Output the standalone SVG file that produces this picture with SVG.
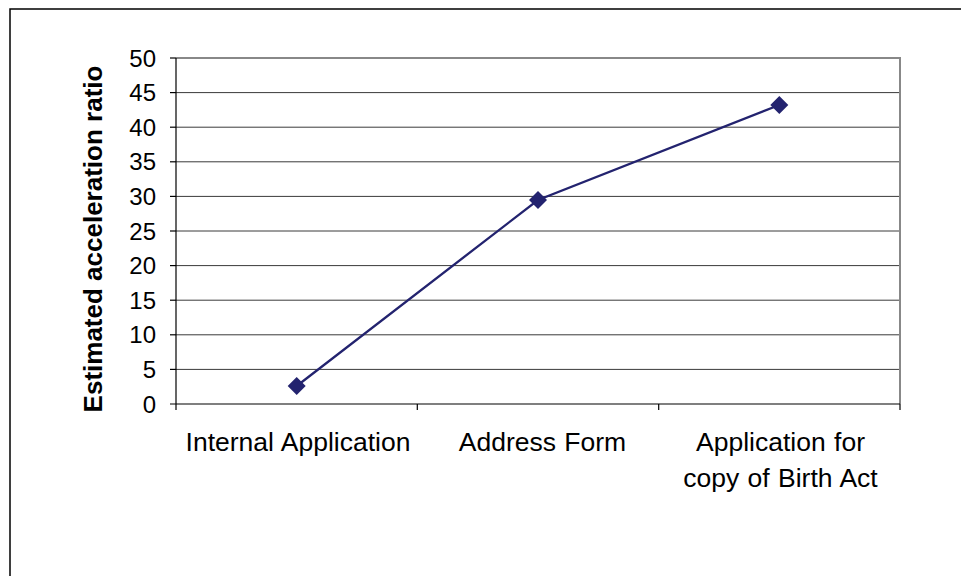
<svg xmlns="http://www.w3.org/2000/svg" width="961" height="576" viewBox="0 0 961 576">
  <style>
    .lbl { font-family: "Liberation Sans", Arial, sans-serif; font-size: 26px; fill: #000; }
    .cat { font-size: 26.5px; word-spacing: 1px; }
    .tick { font-size: 24px; }
    .grid { stroke: #3a3a3a; stroke-width: 1; }
    .axis { stroke: #000; stroke-width: 1.2; }
    .series { fill: none; stroke: #23236f; stroke-width: 2.3; }
    .pt { fill: #23236f; }
  </style>
  <rect width="961" height="576" fill="#fff"/>
  <!-- chart frame -->
  <rect x="10" y="9" width="970" height="600" fill="none" stroke="#000" stroke-width="1.5"/>

  <!-- plot area -->
  <g id="plot">
    <rect x="176" y="58" width="724" height="346" fill="#fff"/>
    <g class="grid">
      <line x1="176" y1="92.6" x2="900" y2="92.6"/>
      <line x1="176" y1="127.2" x2="900" y2="127.2"/>
      <line x1="176" y1="161.8" x2="900" y2="161.8"/>
      <line x1="176" y1="196.4" x2="900" y2="196.4"/>
      <line x1="176" y1="231" x2="900" y2="231"/>
      <line x1="176" y1="265.6" x2="900" y2="265.6"/>
      <line x1="176" y1="300.2" x2="900" y2="300.2"/>
      <line x1="176" y1="334.8" x2="900" y2="334.8"/>
      <line x1="176" y1="369.4" x2="900" y2="369.4"/>
    </g>
    <path d="M176 58 H900 V404" fill="none" stroke="#888" stroke-width="2"/>
  </g>

  <!-- axes -->
  <g id="axes" class="axis">
    <line x1="176" y1="58" x2="176" y2="410"/>
    <line x1="170" y1="404" x2="900" y2="404"/>
    <line x1="170" y1="58" x2="176" y2="58"/>
    <line x1="170" y1="92.6" x2="176" y2="92.6"/>
    <line x1="170" y1="127.2" x2="176" y2="127.2"/>
    <line x1="170" y1="161.8" x2="176" y2="161.8"/>
    <line x1="170" y1="196.4" x2="176" y2="196.4"/>
    <line x1="170" y1="231" x2="176" y2="231"/>
    <line x1="170" y1="265.6" x2="176" y2="265.6"/>
    <line x1="170" y1="300.2" x2="176" y2="300.2"/>
    <line x1="170" y1="334.8" x2="176" y2="334.8"/>
    <line x1="170" y1="369.4" x2="176" y2="369.4"/>
    <line x1="417.3" y1="404" x2="417.3" y2="410"/>
    <line x1="658.7" y1="404" x2="658.7" y2="410"/>
    <line x1="900" y1="404" x2="900" y2="410"/>
  </g>

  <!-- y tick labels -->
  <g id="y-labels" class="lbl tick" text-anchor="end">
    <text x="156" y="66.5">50</text>
    <text x="156" y="101.1">45</text>
    <text x="156" y="135.7">40</text>
    <text x="156" y="170.3">35</text>
    <text x="156" y="204.9">30</text>
    <text x="156" y="239.5">25</text>
    <text x="156" y="274.1">20</text>
    <text x="156" y="308.7">15</text>
    <text x="156" y="343.3">10</text>
    <text x="156" y="377.9">5</text>
    <text x="156" y="412.5">0</text>
  </g>

  <!-- y axis title -->
  <text id="y-title" class="lbl" font-size="27.3" font-weight="bold" text-anchor="middle" transform="translate(102 239) rotate(-90)">Estimated acceleration ratio</text>

  <!-- category labels -->
  <g id="x-labels" class="lbl cat" text-anchor="middle">
    <text x="298" y="451">Internal Application</text>
    <text x="542.5" y="451">Address Form</text>
    <text x="780.5" y="451">Application for</text>
    <text x="780.5" y="487">copy of Birth Act</text>
  </g>

  <!-- data series -->
  <g id="series">
    <polyline class="series" points="296.7,386 538,200 779.3,105"/>
    <path class="pt" d="M296.7 377 L305.7 386 L296.7 395 L287.7 386 Z"/>
    <path class="pt" d="M538 191 L547 200 L538 209 L529 200 Z"/>
    <path class="pt" d="M779.3 96 L788.3 105 L779.3 114 L770.3 105 Z"/>
  </g>
</svg>
